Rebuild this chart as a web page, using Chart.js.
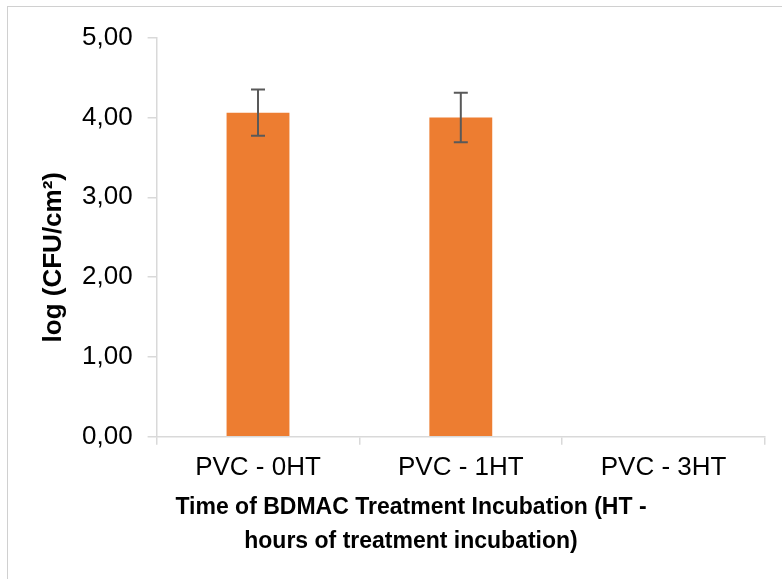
<!DOCTYPE html>
<html lang="en">
<head>
    <meta charset="UTF-8">
    <title>log CFU by BDMAC treatment time</title>
    <script src="https://cdn.jsdelivr.net/npm/chart.js"></script>
    <style>
        body {
            margin: 0;
            background-color: #fff;
            overflow: hidden;
        }
        .chart-frame {
            position: absolute;
            left: 7px;
            top: 6px;
            width: 806px;
            height: 600px;
            border: 1px solid #d0d0d0;
            background-color: #fff;
        }
        canvas {
            display: block;
        }
    </style>
</head>
<body>
<div class="chart-frame">
    <canvas id="cfuChart" width="806" height="600"></canvas>
</div>

<script>
    // Surface counts per treatment incubation time
    const categories = ['PVC - 0HT', 'PVC - 1HT', 'PVC - 3HT'];
    const logCfu = [4.06, 4.00, 0.00];
    const stdDev = [0.29, 0.31, 0.00];
    const yTicks = [0, 1, 2, 3, 4, 5];

    const fontFamily = '"Liberation Sans", Arial, sans-serif';

    // Error bars drawn on top of the bars, from the same scale
    const errorBars = {
        id: 'errorBars',
        afterDatasetsDraw(chart) {
            const meta = chart.getDatasetMeta(0);
            const y = chart.scales.y;
            const ctx = chart.ctx;
            ctx.save();
            ctx.strokeStyle = '#595959';
            ctx.lineWidth = 2;
            meta.data.forEach((bar, i) => {
                if (!stdDev[i]) return;
                const top = y.getPixelForValue(logCfu[i] + stdDev[i]);
                const bottom = y.getPixelForValue(Math.max(0, logCfu[i] - stdDev[i]));
                ctx.beginPath();
                ctx.moveTo(bar.x, top);
                ctx.lineTo(bar.x, bottom);
                ctx.moveTo(bar.x - 7, top);
                ctx.lineTo(bar.x + 7, top);
                ctx.moveTo(bar.x - 7, bottom);
                ctx.lineTo(bar.x + 7, bottom);
                ctx.stroke();
            });
            ctx.restore();
        }
    };

    // Rotated y axis title
    const yTitle = {
        id: 'yTitle',
        afterDraw(chart) {
            const area = chart.chartArea;
            const ctx = chart.ctx;
            ctx.save();
            ctx.translate(area.left - 103, (area.top + area.bottom) / 2 + 20);
            ctx.rotate(-Math.PI / 2);
            ctx.fillStyle = '#000';
            ctx.textAlign = 'center';
            ctx.textBaseline = 'middle';
            ctx.font = 'bold 26px ' + fontFamily;
            ctx.fillText('log (CFU/cm²)', 0, 0);
            ctx.restore();
        }
    };

    new Chart(document.getElementById('cfuChart'), {
        type: 'bar',
        data: {
            labels: categories,
            datasets: [{
                data: logCfu,
                backgroundColor: '#ED7D31',
                borderWidth: 0,
                categoryPercentage: 1,
                barPercentage: 0.31
            }]
        },
        options: {
            responsive: false,
            animation: false,
            layout: {
                padding: { left: 49, right: 49, top: 16, bottom: 0 }
            },
            plugins: {
                legend: { display: false },
                tooltip: { enabled: false },
                title: {
                    display: true,
                    position: 'bottom',
                    text: ['Time of BDMAC Treatment Incubation (HT -', 'hours of treatment incubation)'],
                    color: '#000',
                    font: { family: fontFamily, size: 23, weight: 'bold', lineHeight: 1.5 },
                    padding: { top: 0, bottom: 48 }
                }
            },
            scales: {
                x: {
                    offset: true,
                    grid: {
                        offset: true,
                        drawOnChartArea: false,
                        drawTicks: true,
                        tickLength: 8,
                        color: '#d9d9d9',
                        lineWidth: 1.5
                    },
                    border: { color: '#d9d9d9', width: 1.5 },
                    ticks: {
                        color: '#000',
                        padding: 7,
                        font: { family: fontFamily, size: 26 }
                    }
                },
                y: {
                    min: 0,
                    max: 5,
                    afterBuildTicks(scale) {
                        scale.ticks = yTicks.map(v => ({ value: v }));
                    },
                    // extra room on the left for the rotated title
                    afterFit(scale) {
                        scale.width += 10;
                    },
                    grid: {
                        drawOnChartArea: false,
                        drawTicks: true,
                        tickLength: 9,
                        color: '#d9d9d9',
                        lineWidth: 1.5
                    },
                    border: { color: '#d9d9d9', width: 1.5 },
                    ticks: {
                        color: '#000',
                        padding: 15,
                        font: { family: fontFamily, size: 26 },
                        callback: v => v.toFixed(2).replace('.', ',')
                    }
                }
            }
        },
        plugins: [errorBars, yTitle]
    });
</script>
</body>
</html>
